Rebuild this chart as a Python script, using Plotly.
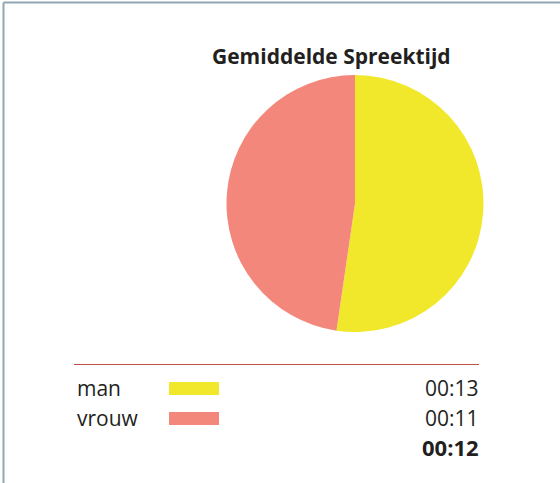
import plotly.graph_objects as go

# Data
categories = ["man", "vrouw"]
values = [12.5, 11.4]          # average speaking time (seconds)
value_labels = ["00:13", "00:11"]
average_label = "00:12"
title_text = "Gemiddelde Spreektijd"
colors = ["#F1E82B", "#F4877B"]

W, H = 560, 483
def px(x):
    return x / W
def py(y):
    return 1 - y / H

fig = go.Figure(go.Pie(
    labels=categories,
    values=values,
    sort=False,
    direction="clockwise",
    rotation=0,
    marker=dict(colors=colors, line=dict(width=0)),
    textinfo="none",
    hoverinfo="label+value",
    domain=dict(x=[px(226), px(484)], y=[py(332), py(75)]),
    showlegend=False,
))

font_family = "'Open Sans', sans-serif"
annotations = [
    dict(x=px(331), y=py(56), text="<b>" + title_text + "</b>", showarrow=False,
         xanchor="center", yanchor="middle", font=dict(size=21, color="#231f20", family=font_family)),
]
shapes = [
    # border (top and left)
    dict(type="line", xref="paper", yref="paper", x0=px(3.5), x1=1.01, y0=py(2.5), y1=py(2.5),
         line=dict(color="#8fa8b4", width=2)),
    dict(type="line", xref="paper", yref="paper", x0=px(3.5), x1=px(3.5), y0=-0.01, y1=py(2.5),
         line=dict(color="#8fa8b4", width=2)),
    # red rule
    dict(type="line", xref="paper", yref="paper", x0=px(74), x1=px(479), y0=py(364.5), y1=py(364.5),
         line=dict(color="#c0504d", width=1.2)),
]
row_y = [388, 418]
swatch = [(382, 395), (412, 425)]
for i, cat in enumerate(categories):
    annotations.append(dict(x=px(75), y=py(row_y[i]), text=cat, showarrow=False,
                            xanchor="left", yanchor="middle",
                            font=dict(size=21, color="#231f20", family=font_family)))
    annotations.append(dict(x=px(481), y=py(row_y[i]), text=value_labels[i], showarrow=False,
                            xanchor="right", yanchor="middle",
                            font=dict(size=21, color="#231f20", family=font_family)))
    shapes.append(dict(type="rect", xref="paper", yref="paper", x0=px(169), x1=px(219),
                       y0=py(swatch[i][1]), y1=py(swatch[i][0]),
                       fillcolor=colors[i], line=dict(width=0)))
annotations.append(dict(x=px(481), y=py(447), text="<b>" + average_label + "</b>", showarrow=False,
                        xanchor="right", yanchor="middle",
                        font=dict(size=22, color="#231f20", family=font_family)))

fig.update_layout(
    width=W, height=H,
    margin=dict(l=0, r=0, t=0, b=0),
    paper_bgcolor="white",
    plot_bgcolor="white",
    annotations=annotations,
    shapes=shapes,
)
fig.write_html(
    "out.html",
    config={"displayModeBar": False},
    post_script="document.body.style.margin='0px';document.body.style.overflow='hidden';"
                "document.documentElement.style.overflow='hidden';",
)
